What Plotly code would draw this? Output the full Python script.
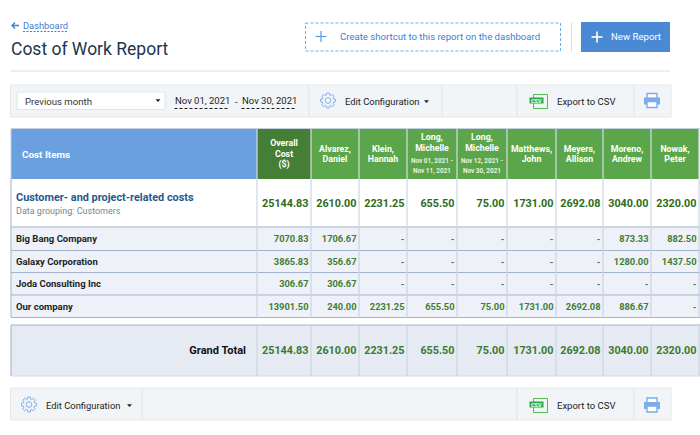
import math
import plotly.graph_objects as go

######################
# Report values
######################
col_heads = [["Overall", "Cost", "($)"], ["Alvarez,", "Daniel"], ["Klein,", "Hannah"],
             ["Long,", "Michelle"], ["Long,", "Michelle"], ["Matthews,", "John"],
             ["Meyers,", "Allison"], ["Moreno,", "Andrew"], ["Nowak,", "Peter"]]
head_dates = [[], [], [], ["Nov 01, 2021 -", "Nov 11, 2021"], ["Nov 12, 2021 -", "Nov 30, 2021"],
              [], [], [], []]

row_names = ["Big Bang Company", "Galaxy Corporation", "Joda Consulting Inc", "Our company"]
customer_total = ["25144.83", "2610.00", "2231.25", "655.50", "75.00", "1731.00", "2692.08", "3040.00", "2320.00"]
big_bang = ["7070.83", "1706.67", "-", "-", "-", "-", "-", "873.33", "882.50"]
galaxy = ["3865.83", "356.67", "-", "-", "-", "-", "-", "1280.00", "1437.50"]
joda = ["306.67", "306.67", "-", "-", "-", "-", "-", "-", "-"]
our_company = ["13901.50", "240.00", "2231.25", "655.50", "75.00", "1731.00", "2692.08", "886.67", "-"]
grand_total = ["25144.83", "2610.00", "2231.25", "655.50", "75.00", "1731.00", "2692.08", "3040.00", "2320.00"]

######################
# Grid and colours
######################
col_edges = [11, 257, 311, 359, 407, 457, 507, 556, 603, 651, 699]
row_edges = [179, 227, 250.5, 272.5, 295, 317.5]
head_top, head_bot = 128.5, 179
total_top, total_bot = 325, 376

FONT = "Roboto"
BLUE = "#4a8ad4"
LINK = "#3d7fcf"
GRID = "#ccd5e5"
RULE = "#a3b2cc"
TOOLBAR = "#f2f5f7"
TOOLLINE = "#e3e7ea"

shapes, notes = [], []


def rect(x0, y0, x1, y1, fill="rgba(0,0,0,0)", line=None, width=1, dash=None):
    shapes.append(dict(type="rect", x0=x0, y0=y0, x1=x1, y1=y1, xref="x", yref="y", fillcolor=fill, layer="below",
                       line=dict(color=line or "rgba(0,0,0,0)", width=width if line else 0, dash=dash)))


def hline(x0, x1, y, color, width=1, dash=None):
    shapes.append(dict(type="line", x0=x0, x1=x1, y0=y, y1=y, xref="x", yref="y", layer="below",
                       line=dict(color=color, width=width, dash=dash)))


def vline(x, y0, y1, color, width=1):
    shapes.append(dict(type="line", x0=x, x1=x, y0=y0, y1=y1, xref="x", yref="y", layer="below",
                       line=dict(color=color, width=width)))


def label(x, y, text, size, color, anchor="left", bold=False):
    notes.append(dict(x=x, y=y, xref="x", yref="y", text="<b>%s</b>" % text if bold else text, showarrow=False,
                      xanchor=anchor, yanchor="middle", font=dict(family=FONT, size=size, color=color),
                      borderpad=0, borderwidth=0))


def plus(cx, cy, r, color, width=1.5):
    hline(cx - r, cx + r, cy, color, width)
    vline(cx, cy - r, cy + r, color, width)


def gear(cx, cy):
    # eight teeth, drawn as one closed outline
    pts = []
    for k in range(8):
        for step, r in [(-0.28, 5.6), (-0.16, 7.6), (0.16, 7.6), (0.28, 5.6)]:
            a = (k + step * 1.4) * math.pi / 4
            pts.append((cx + r * math.cos(a), cy + r * math.sin(a)))
    path = "M " + " L ".join("%.2f %.2f" % p for p in pts) + " Z"
    shapes.append(dict(type="path", path=path, xref="x", yref="y", layer="below",
                       line=dict(color="#7fb0ea", width=1)))
    shapes.append(dict(type="circle", x0=cx - 2.8, x1=cx + 2.8, y0=cy - 2.8, y1=cy + 2.8, xref="x", yref="y",
                       layer="below", line=dict(color="#7fb0ea", width=1)))


def caret(cx, cy, color="#222222"):
    shapes.append(dict(type="path", path="M %g %g L %g %g L %g %g Z" % (cx - 2.5, cy - 1.2, cx + 2.5, cy - 1.2, cx, cy + 1.6),
                       xref="x", yref="y", fillcolor=color, line=dict(width=0), layer="below"))


def csv_icon(cx, cy):
    rect(cx - 5, cy - 7, cx + 9, cy + 7, fill="#eef7ee", line="#5cb85c", width=1)
    rect(cx - 9, cy - 4, cx + 5, cy + 2, fill="#27a84a")
    label(cx - 2, cy - 1, "CSV", 5.5, "#ffffff", anchor="center", bold=True)


def printer(cx, cy):
    rect(cx - 5, cy - 7, cx + 5, cy - 2, fill="#ffffff", line="#7bacec", width=1.4)
    rect(cx - 8, cy - 3, cx + 8, cy + 4, fill="#7bacec")
    rect(cx - 5, cy + 1, cx + 5, cy + 7, fill="#ffffff", line="#7bacec", width=1.4)


def toolbar(y0, y1, dividers):
    rect(10.5, y0, 671, y1, fill=TOOLBAR, line=TOOLLINE, width=1)
    for x in dividers:
        vline(x, y0, y1, TOOLLINE, 1.2)


######################
# Page header
######################
shapes.append(dict(type="path", path="M 12 25.5 L 19 25.5 M 15 22.5 L 12 25.5 L 15 28.5", xref="x", yref="y",
                   layer="below", line=dict(color=LINK, width=1.3)))
label(23, 25.5, "Dashboard", 9.3, LINK)
hline(23, 68.5, 31.5, LINK, 1, "2px,1.5px")
label(10.5, 49, "Cost of Work Report", 17.5, "#1d3550")
hline(11, 670, 71, "#e8e9eb", 1.6)

rect(305.5, 23, 560.5, 51, fill="#ffffff", line="#6aaef0", width=1, dash="3px,2px")
plus(321, 36.5, 5.5, "#5b9be0", 1.2)
label(339.5, 36.5, "Create shortcut to this report on the dashboard", 9.6, LINK)
vline(571.5, 22.5, 52, "#dddfe2", 1)
rect(581, 22, 670, 52, fill=BLUE)
plus(597, 37, 5.5, "#ffffff", 1.6)
label(610.5, 36.5, "New Report", 9.6, "#ffffff")

######################
# Toolbars
######################
toolbar(85, 117, [309, 442, 517, 634])
rect(17, 92, 165, 109.5, fill="#ffffff", line="#dfe4ea", width=1)
label(24.5, 101, "Previous month", 9.6, "#333333")
caret(158, 100.5)
label(174.5, 100, "Nov 01, 2021", 9.5, "#222222")
hline(174.5, 229.5, 108.5, "#222222", 1, "3px,2px")
label(235, 101, "-", 9.5, "#222222")
label(241.5, 100, "Nov 30, 2021", 9.5, "#222222")
hline(241.5, 296.5, 108.5, "#222222", 1, "3px,2px")
gear(328, 100.5)
label(344.5, 101, "Edit Configuration", 9.4, "#222222")
caret(426.5, 101.5)
csv_icon(538.5, 101.5)
label(556.5, 101, "Export to CSV", 9.5, "#222222")
printer(652, 100.5)

toolbar(388, 420, [142, 517, 634])
gear(29, 404.5)
label(45.5, 405, "Edit Configuration", 9.4, "#222222")
caret(129.5, 405.5)
csv_icon(538.5, 405.5)
label(556.5, 405, "Export to CSV", 9.5, "#222222")
printer(652, 405)

######################
# Report grid
######################
rect(11, head_top, col_edges[1], head_bot, fill="#6a9fe0")
for i in range(len(col_heads)):
    rect(col_edges[i + 1], head_top, col_edges[i + 2], head_bot, fill="#457f35" if i == 0 else "#5ba54a")
for x in col_edges[1:]:
    vline(x, head_top, head_bot, "#d5dde8", 1.2)
hline(11, 700, head_top, "#c5d0e0", 1)
vline(11, head_top, head_bot, "#c5d0e0", 1)

rect(11, row_edges[1], 700, row_edges[-1], fill="#eef1f8")
rect(11, total_top, 700, total_bot, fill="#e5eaf3")
for y in row_edges[1:]:
    hline(11, 700, y, RULE, 1.2)
hline(11, 700, total_top, RULE, 1.2)
hline(11, 700, total_bot, "#d5dbe7", 1.2)
for y0, y1 in [(row_edges[0], row_edges[-1]), (total_top, total_bot)]:
    vline(11, y0, y1, RULE, 1)
    for x in col_edges[1:]:
        vline(x, y0, y1, GRID, 1.2)

fig = go.Figure()


def text_trace(xs, ys, texts, size, color, pos="middle left"):
    fig.add_trace(go.Scatter(x=xs, y=[y + 1.3 for y in ys], text=texts, mode="text", textposition=pos,
                             hoverinfo="skip", showlegend=False, cliponaxis=False,
                             textfont=dict(family=FONT, size=size, color=color)))


right_edges = [x - 2.5 for x in col_edges[2:]]
mids = [(a + b) / 2 for a, b in zip(col_edges[1:-1], col_edges[2:])]
bold = lambda items: ["<b>%s</b>" % t for t in items]

# header captions, one point per line so that the pitch matches the page
head_x, head_y, head_t, date_x, date_y, date_t = [], [], [], [], [], []
for mid, lines, dates in zip(mids, col_heads, head_dates):
    top = 143 if len(lines) == 3 else 137 if dates else 148.5
    for k, line in enumerate(lines):
        head_x.append(mid)
        head_y.append(top + k * 10.3)
        head_t.append(line)
    for k, line in enumerate(dates):
        date_x.append(mid)
        date_y.append(160 + k * 10)
        date_t.append(line)
text_trace(head_x, head_y, bold(head_t), 8.8, "#ffffff", "middle center")
text_trace(date_x, date_y, bold(date_t), 6.4, "#e6f2e2", "middle center")
text_trace([22], [154], bold(["Cost Items"]), 9.9, "#ffffff", "middle right")

# customer group row
text_trace(right_edges, [203.5] * 9, bold(customer_total), 10.8, "#2c6b22")
text_trace([16], [196.5], bold(["Customer- and project-related costs"]), 10.9, "#245a8c", "middle right")
text_trace([16], [210], ["Data grouping: Customers"], 9, "#7b8592", "middle right")

# customer rows
row_mids = [(a + b) / 2 for a, b in zip(row_edges[1:-1], row_edges[2:])]
for name, vals, y in zip(row_names, [big_bang, galaxy, joda, our_company], row_mids):
    text_trace([16], [y], bold([name]), 9.5, "#1b1f24", "middle right")
    text_trace(right_edges, [y] * 9, bold(vals), 9.3, "#3f7e36")

# grand total
text_trace([246], [350], bold(["Grand Total"]), 11, "#111111")
text_trace(right_edges, [350] * 9, bold(grand_total), 10.8, "#3a7a2e")

fig.update_layout(
    width=700, height=435, margin=dict(l=0, r=0, t=0, b=0),
    plot_bgcolor="#ffffff", paper_bgcolor="#ffffff", showlegend=False,
    xaxis=dict(range=[0, 700], visible=False, fixedrange=True),
    yaxis=dict(range=[435, 0], visible=False, fixedrange=True),
    shapes=shapes, annotations=notes,
)

# the page body has a default margin that would push the chart off its place
fig.write_html("out.html", config=dict(displayModeBar=False),
               post_script="document.body.style.margin='0';")
